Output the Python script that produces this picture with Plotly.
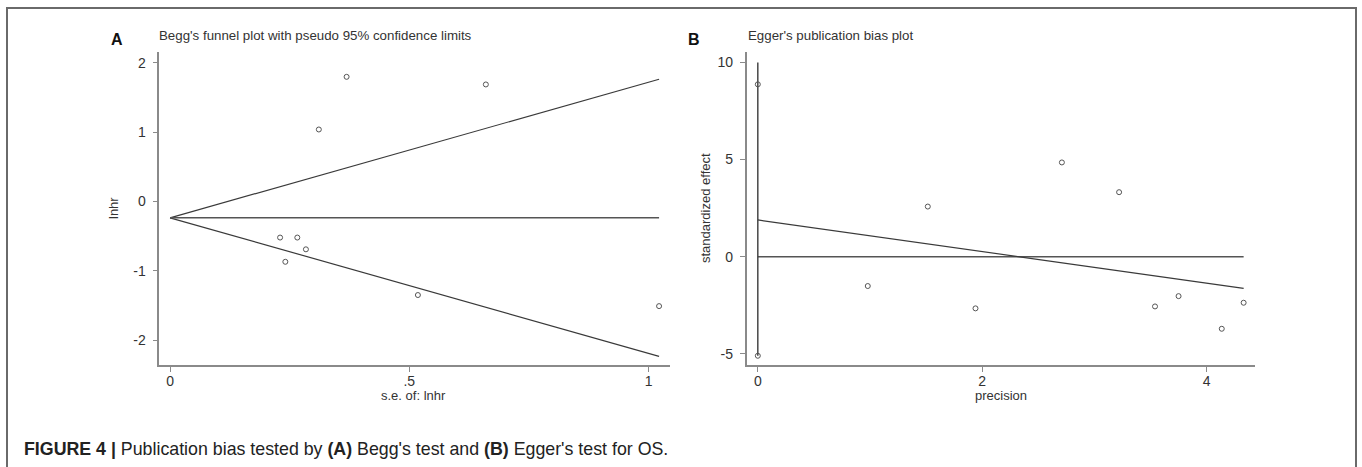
import plotly.graph_objects as go

W, H = 1362, 467

# ---- Panel A: Begg's funnel plot ----
se_lnhr = [0.369, 0.660, 0.311, 0.230, 0.266, 0.284, 0.241, 0.518, 1.022]
lnhr = [1.80, 1.69, 1.04, -0.52, -0.52, -0.69, -0.87, -1.35, -1.51]
funnel_se = [0.0, 1.022]
funnel_upper = [-0.235, 1.765]
funnel_lower = [-0.235, -2.235]
pooled_line = [-0.235, -0.235]
a_xticks = [0, 0.5, 1]
a_xticklabels = ["0", ".5", "1"]
a_yticks = [-2, -1, 0, 1, 2]
a_yticklabels = ["-2", "-1", "0", "1", "2"]

# ---- Panel B: Egger's publication bias plot ----
precision = [0.98, 1.515, 1.94, 2.71, 3.22, 3.54, 3.75, 4.135, 4.33]
std_effect = [-1.51, 2.58, -2.66, 4.85, 3.32, -2.56, -2.03, -3.71, -2.37]
reg_x = [0.0, 4.33]
reg_y = [1.89, -1.63]
zero_x = [0.0, 4.33]
zero_y = [0.0, 0.0]
ci_x = [0.0, 0.0]
ci_y = [-5.1, 10.0]
ci_marks = [8.87, -5.1]
b_xticks = [0, 2, 4]
b_xticklabels = ["0", "2", "4"]
b_yticks = [-5, 0, 5, 10]
b_yticklabels = ["-5", "0", "5", "10"]

FONT = "Liberation Sans, Arial, sans-serif"
LINE = "#3a3a3a"
AXC = "#8a8a8a"
TXT = "#333333"
MK = dict(symbol="circle-open", size=5, color="#555555", line=dict(width=1))

fig = go.Figure()

# Panel A traces
fig.add_trace(go.Scatter(x=funnel_se, y=funnel_upper, mode="lines",
                         line=dict(color=LINE, width=1.2), xaxis="x", yaxis="y"))
fig.add_trace(go.Scatter(x=funnel_se, y=funnel_lower, mode="lines",
                         line=dict(color=LINE, width=1.2), xaxis="x", yaxis="y"))
fig.add_trace(go.Scatter(x=funnel_se, y=pooled_line, mode="lines",
                         line=dict(color="#555555", width=1.5), xaxis="x", yaxis="y"))
fig.add_trace(go.Scatter(x=se_lnhr, y=lnhr, mode="markers", marker=MK,
                         xaxis="x", yaxis="y"))

# Panel B traces
fig.add_trace(go.Scatter(x=zero_x, y=zero_y, mode="lines",
                         line=dict(color="#555555", width=1.5), xaxis="x2", yaxis="y2"))
fig.add_trace(go.Scatter(x=reg_x, y=reg_y, mode="lines",
                         line=dict(color=LINE, width=1.2), xaxis="x2", yaxis="y2"))
fig.add_trace(go.Scatter(x=ci_x, y=ci_y, mode="lines",
                         line=dict(color=LINE, width=1.4), xaxis="x2", yaxis="y2"))
fig.add_trace(go.Scatter(x=[0, 0], y=ci_marks, mode="markers", marker=MK,
                         xaxis="x2", yaxis="y2"))
fig.add_trace(go.Scatter(x=precision, y=std_effect, mode="markers", marker=MK,
                         xaxis="x2", yaxis="y2"))

def px_x(p):
    return p / W

def px_y(p):
    return 1 - p / H

axis_common = dict(showline=True, linecolor=AXC, linewidth=1.5, mirror=False,
                   showgrid=False, zeroline=False, ticks="outside", ticklen=5,
                   tickcolor=AXC, tickwidth=1.2,
                   tickfont=dict(family=FONT, size=14, color=TXT))

fig.update_layout(
    width=W, height=H,
    margin=dict(l=0, r=0, t=0, b=0),
    paper_bgcolor="white", plot_bgcolor="white",
    showlegend=False,
    xaxis=dict(domain=[px_x(159.3), px_x(669.6)], range=[-0.0224, 1.044],
               tickvals=a_xticks, ticktext=a_xticklabels, anchor="y",
               ticklabelstandoff=-3, **axis_common),
    yaxis=dict(domain=[px_y(365), px_y(51.7)], range=[-2.36, 2.163],
               tickvals=a_yticks, ticktext=a_yticklabels, anchor="x",
               ticklabelstandoff=4, **axis_common),
    xaxis2=dict(domain=[px_x(746.6), px_x(1255.2)], range=[-0.1, 4.433],
                tickvals=b_xticks, ticktext=b_xticklabels, anchor="y2",
                ticklabelstandoff=-3, **axis_common),
    yaxis2=dict(domain=[px_y(365.3), px_y(51.7)], range=[-5.59, 10.55],
                tickvals=b_yticks, ticktext=b_yticklabels, anchor="x2",
                ticklabelstandoff=4, **axis_common),
)

def ann(text, x, y, size, bold=False, angle=0, xanchor="center", color=TXT):
    fig.add_annotation(text=(f"<b>{text}</b>" if bold else text),
                       x=px_x(x), y=px_y(y), xref="paper", yref="paper",
                       showarrow=False, xanchor=xanchor, yanchor="middle",
                       textangle=angle,
                       font=dict(family=FONT, size=size, color=color))

ann("A", 109, 40, 16, bold=True, xanchor="left", color="#111111")
ann("Begg's funnel plot with pseudo 95% confidence limits", 157, 35, 13.3, xanchor="left")
ann("lnhr", 113, 208, 13, angle=-90)
ann("s.e. of: lnhr", 413, 395, 13)

ann("B", 686, 40, 16, bold=True, xanchor="left", color="#111111")
ann("Egger's publication bias plot", 746, 35, 13.3, xanchor="left")
ann("standardized effect", 705, 208, 13, angle=-90)
ann("precision", 1001, 395, 13)

ann("<b>FIGURE 4 |</b> Publication bias tested by <b>(A)</b> Begg's test and "
    "<b>(B)</b> Egger's test for OS.", 22, 449, 17.8, xanchor="left", color="#222222")

# outer frame of the figure panel
fig.add_shape(type="rect", xref="paper", yref="paper",
              x0=px_x(7), x1=px_x(1356), y0=px_y(490), y1=px_y(8),
              line=dict(color="#6a6a6a", width=2), fillcolor="rgba(0,0,0,0)")

fig.write_html("out.html",
               config={"displayModeBar": False},
               post_script="document.body.style.margin='0';"
                           "document.body.style.overflow='hidden';")
